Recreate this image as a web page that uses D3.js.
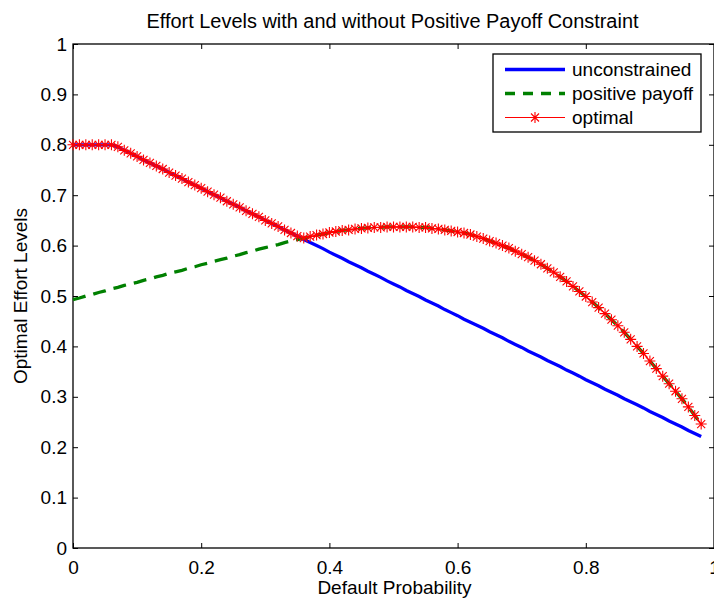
<!DOCTYPE html>
<html>
<head>
<meta charset="utf-8">
<script src="https://cdn.jsdelivr.net/npm/d3@7"></script>
<style>
  body { margin: 0; background: #fff; }
  svg text { font-family: "Liberation Sans", Arial, sans-serif; fill: #000; }
</style>
</head>
<body>
<script>
// default probability grid, 0 .. 0.98
const probs = d3.range(99).map(i => i / 100)

const unconstrained = [
  0.800, 0.800, 0.800, 0.800, 0.800, 0.800, 0.800, 0.796, 0.789, 0.783,
  0.777, 0.770, 0.764, 0.758, 0.752, 0.745, 0.739, 0.733, 0.726, 0.720,
  0.714, 0.707, 0.701, 0.695, 0.688, 0.682, 0.676, 0.669, 0.663, 0.657,
  0.650, 0.644, 0.638, 0.631, 0.625, 0.619, 0.612, 0.606, 0.600, 0.594,
  0.587, 0.581, 0.575, 0.568, 0.562, 0.556, 0.549, 0.543, 0.537, 0.530,
  0.524, 0.518, 0.511, 0.505, 0.499, 0.492, 0.486, 0.480, 0.473, 0.467,
  0.461, 0.454, 0.448, 0.442, 0.436, 0.429, 0.423, 0.417, 0.410, 0.404,
  0.398, 0.391, 0.385, 0.379, 0.372, 0.366, 0.360, 0.353, 0.347, 0.341,
  0.334, 0.328, 0.322, 0.315, 0.309, 0.303, 0.296, 0.290, 0.284, 0.278,
  0.271, 0.265, 0.259, 0.252, 0.246, 0.240, 0.233, 0.227, 0.221
]

const positivePayoff = [
  0.493, 0.496, 0.500, 0.503, 0.507, 0.510, 0.514, 0.517, 0.521, 0.524,
  0.527, 0.531, 0.534, 0.538, 0.541, 0.545, 0.548, 0.551, 0.555, 0.558,
  0.562, 0.565, 0.569, 0.572, 0.575, 0.579, 0.582, 0.586, 0.589, 0.593,
  0.596, 0.599, 0.602, 0.606, 0.609, 0.612, 0.615, 0.618, 0.621, 0.623,
  0.626, 0.628, 0.630, 0.631, 0.633, 0.634, 0.635, 0.636, 0.636, 0.637,
  0.637, 0.637, 0.637, 0.637, 0.636, 0.636, 0.634, 0.633, 0.631, 0.629,
  0.627, 0.625, 0.622, 0.618, 0.614, 0.609, 0.605, 0.600, 0.595, 0.589,
  0.583, 0.577, 0.570, 0.563, 0.555, 0.547, 0.538, 0.529, 0.519, 0.509,
  0.499, 0.488, 0.477, 0.465, 0.453, 0.441, 0.428, 0.414, 0.400, 0.386,
  0.371, 0.356, 0.341, 0.326, 0.311, 0.296, 0.280, 0.263, 0.246
]

const optimal = [
  0.800, 0.800, 0.800, 0.800, 0.800, 0.800, 0.800, 0.796, 0.789, 0.783,
  0.777, 0.770, 0.764, 0.758, 0.752, 0.745, 0.739, 0.733, 0.726, 0.720,
  0.714, 0.707, 0.701, 0.695, 0.688, 0.682, 0.676, 0.669, 0.663, 0.657,
  0.650, 0.644, 0.638, 0.631, 0.625, 0.619, 0.615, 0.618, 0.621, 0.623,
  0.626, 0.628, 0.630, 0.631, 0.633, 0.634, 0.635, 0.636, 0.636, 0.637,
  0.637, 0.637, 0.637, 0.637, 0.636, 0.636, 0.634, 0.633, 0.631, 0.629,
  0.627, 0.625, 0.622, 0.618, 0.614, 0.609, 0.605, 0.600, 0.595, 0.589,
  0.583, 0.577, 0.570, 0.563, 0.555, 0.547, 0.538, 0.529, 0.519, 0.509,
  0.499, 0.488, 0.477, 0.465, 0.453, 0.441, 0.428, 0.414, 0.400, 0.386,
  0.371, 0.356, 0.341, 0.326, 0.311, 0.296, 0.280, 0.263, 0.246
]

const xTicks = [0, 0.2, 0.4, 0.6, 0.8, 1]
const yTicks = [0, 0.1, 0.2, 0.3, 0.4, 0.5, 0.6, 0.7, 0.8, 0.9, 1]
const legendLabels = ["unconstrained", "positive payoff", "optimal"]

const W = 714, H = 599
const mLeft = 73, mRight = 714, mTop = 44, mBottom = 548

const svg = d3.select("body").append("svg").attr("width", W).attr("height", H)

const x = d3.scaleLinear().domain([0, 1]).range([mLeft, mRight])
const y = d3.scaleLinear().domain([0, 1]).range([mBottom, mTop])

// axes box
svg.append("rect")
  .attr("x", mLeft).attr("y", mTop)
  .attr("width", mRight - mLeft).attr("height", mBottom - mTop)
  .attr("fill", "none").attr("stroke", "#000").attr("stroke-width", 1.3)

const fmt = d => d === 0 || d === 1 ? String(d) : d3.format(".1f")(d)

const styleAxis = g => {
  g.select(".domain").remove()
  g.selectAll(".tick line").attr("stroke", "#000").attr("stroke-width", 1)
  g.selectAll(".tick text").style("font-size", "19px")
}

svg.append("g").attr("transform", `translate(0,${mBottom})`)
  .call(d3.axisBottom(x).tickValues(xTicks).tickFormat(fmt).tickSizeInner(-5).tickSizeOuter(0).tickPadding(13))
  .call(styleAxis)
svg.append("g").attr("transform", `translate(0,${mTop})`)
  .call(d3.axisTop(x).tickValues(xTicks).tickFormat("").tickSizeInner(-5).tickSizeOuter(0))
  .call(styleAxis)
svg.append("g").attr("transform", `translate(${mLeft},0)`)
  .call(d3.axisLeft(y).tickValues(yTicks).tickFormat(fmt).tickSizeInner(-5).tickSizeOuter(0).tickPadding(6))
  .call(styleAxis)
svg.append("g").attr("transform", `translate(${mRight},0)`)
  .call(d3.axisRight(y).tickValues(yTicks).tickFormat("").tickSizeInner(-5).tickSizeOuter(0))
  .call(styleAxis)

// labels
svg.append("text").attr("x", (mLeft + mRight) / 2 - 1).attr("y", 28)
  .attr("text-anchor", "middle").style("font-size", "19.5px")
  .attr("textLength", 492).attr("lengthAdjust", "spacingAndGlyphs")
  .text("Effort Levels with and without Positive Payoff Constraint")
svg.append("text").attr("x", (mLeft + mRight) / 2 + 1).attr("y", 594)
  .attr("text-anchor", "middle").style("font-size", "19px")
  .text("Default Probability")
svg.append("text").attr("transform", `translate(27,${(mTop + mBottom) / 2}) rotate(-90)`)
  .attr("text-anchor", "middle").style("font-size", "19px")
  .text("Optimal Effort Levels")

const line = vals => d3.line().x((d, i) => x(probs[i])).y(d => y(d))(vals)

const plot = svg.append("g")
plot.append("path").attr("d", line(unconstrained))
  .attr("fill", "none").attr("stroke", "#0000ff").attr("stroke-width", 3.3)
plot.append("path").attr("d", line(positivePayoff))
  .attr("fill", "none").attr("stroke", "#008000").attr("stroke-width", 3.3)
  .attr("stroke-dasharray", "13,8")
plot.append("path").attr("d", line(optimal))
  .attr("fill", "none").attr("stroke", "#ff0000").attr("stroke-width", 1.2)

// MATLAB style '*' marker
const r = 5.5, k = 4
const star = `M${-r},0L${r},0M0,${-r}L0,${r}M${-k},${-k}L${k},${k}M${-k},${k}L${k},${-k}`

plot.selectAll(".star")
  .data(optimal)
  .join("path")
  .classed("star", true)
  .attr("transform", (d, i) => `translate(${x(probs[i])},${y(d)})`)
  .attr("d", star)
  .attr("fill", "none").attr("stroke", "#ff0000").attr("stroke-width", 1.1)

// legend
const legend = svg.append("g").attr("id", "legend")
legend.append("rect").attr("x", 493).attr("y", 54).attr("width", 208).attr("height", 78)
  .attr("fill", "#fff").attr("stroke", "#000").attr("stroke-width", 1.3)

const rows = legend.selectAll(".row").data(legendLabels).join("g")
  .classed("row", true)
  .attr("transform", (d, i) => `translate(0,${69.5 + i * 24})`)

rows.append("text").attr("x", 572).attr("y", 0).attr("dy", "0.35em")
  .style("font-size", "19px").text(d => d)

rows.filter((d, i) => i === 0).append("line")
  .attr("x1", 505).attr("x2", 565).attr("stroke", "#0000ff").attr("stroke-width", 3.3)
rows.filter((d, i) => i === 1).append("line")
  .attr("x1", 505).attr("x2", 565).attr("stroke", "#008000").attr("stroke-width", 3.3)
  .attr("stroke-dasharray", "10,8")
const opt = rows.filter((d, i) => i === 2)
opt.append("line").attr("x1", 505).attr("x2", 565).attr("stroke", "#ff0000").attr("stroke-width", 1)
opt.append("path").attr("transform", "translate(535,0)").attr("d", star)
  .attr("fill", "none").attr("stroke", "#ff0000").attr("stroke-width", 1.1)
</script>
</body>
</html>
